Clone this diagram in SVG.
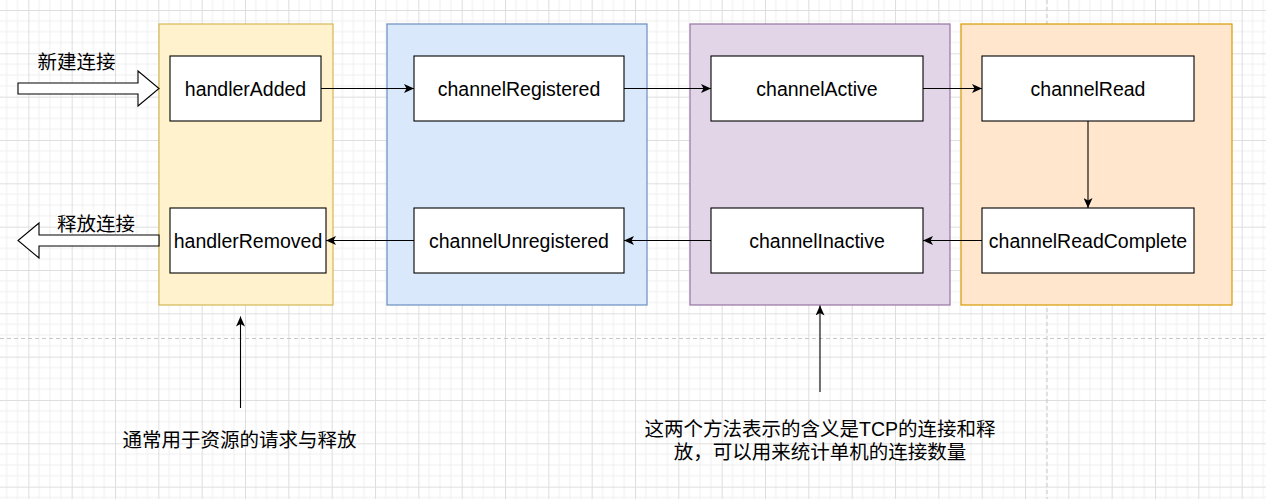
<svg xmlns="http://www.w3.org/2000/svg" width="1266" height="499" viewBox="0 0 1266 499">
  <defs>
    <pattern id="grid" patternUnits="userSpaceOnUse" x="28.333" y="10" width="43.333" height="43.333">
      <rect width="43.333" height="43.333" fill="#ffffff"/>
      <path d="M10.833 0V43.333M21.667 0V43.333M32.5 0V43.333M0 10.833H43.333M0 21.667H43.333M0 32.5H43.333" stroke="#f0f0f0" stroke-width="1" fill="none"/>
      <path d="M0.5 0V43.333M0 0.5H43.333" stroke="#dedede" stroke-width="1" fill="none"/>
    </pattern>
    <marker id="arr" markerUnits="userSpaceOnUse" markerWidth="11" markerHeight="9" refX="10" refY="4.5" orient="auto">
      <path d="M0,0 L10,4.5 L0,9 L2.5,4.5 Z" fill="#000"/>
    </marker>
  </defs>
  <style>
    .cont { stroke-width: 1.2; }
    .node rect { fill: #ffffff; stroke: #000000; stroke-width: 1.1; }
    .lbl { font-family: "Liberation Sans", Arial, "Noto Sans CJK SC", sans-serif; font-size: 19.5px; fill: #000; text-anchor: middle; }
    .cn { font-family: "Liberation Sans", "Noto Sans CJK SC", sans-serif; font-size: 19.5px; fill: #000; text-anchor: middle; }
    .edge { stroke: #000; stroke-width: 1.1; fill: none; marker-end: url(#arr); }
    .big { stroke: #000; stroke-width: 1.1; fill: #fff; }
    .page { stroke: #c8c8c8; stroke-width: 1; stroke-dasharray: 4 3; fill: none; }
  </style>
  <rect width="1266" height="499" fill="url(#grid)"/>
  <path class="page" d="M1047 0V499M0 338.5H1266"/>

  <g id="containers">
    <rect class="cont" x="159" y="24" width="174" height="281" fill="#fff2cc" stroke="#d6b656"/>
    <rect class="cont" x="387" y="24" width="260" height="281" fill="#dae8fc" stroke="#6c8ebf"/>
    <rect class="cont" x="690" y="24" width="260" height="281" fill="#e1d5e7" stroke="#9673a6"/>
    <rect class="cont" x="961" y="24" width="271" height="281" fill="#ffe6cc" stroke="#d79b00"/>
  </g>

  <g id="handlerAdded" class="node">
    <rect x="170" y="56" width="151" height="65"/>
    <text class="lbl" x="245.5" y="95.5">handlerAdded</text>
  </g>
  <g id="handlerRemoved" class="node">
    <rect x="170" y="208" width="156" height="65"/>
    <text class="lbl" x="248" y="247.5">handlerRemoved</text>
  </g>
  <g id="channelRegistered" class="node">
    <rect x="414" y="56" width="210" height="65"/>
    <text class="lbl" x="519" y="95.5">channelRegistered</text>
  </g>
  <g id="channelUnregistered" class="node">
    <rect x="414" y="208" width="210" height="65"/>
    <text class="lbl" x="519" y="247.5">channelUnregistered</text>
  </g>
  <g id="channelActive" class="node">
    <rect x="711" y="56" width="212" height="65"/>
    <text class="lbl" x="817" y="95.5">channelActive</text>
  </g>
  <g id="channelInactive" class="node">
    <rect x="711" y="208" width="212" height="65"/>
    <text class="lbl" x="817" y="247.5">channelInactive</text>
  </g>
  <g id="channelRead" class="node">
    <rect x="982" y="56" width="212" height="65"/>
    <text class="lbl" x="1088" y="95.5">channelRead</text>
  </g>
  <g id="channelReadComplete" class="node">
    <rect x="982" y="208" width="212" height="65"/>
    <text class="lbl" x="1088" y="247.5">channelReadComplete</text>
  </g>

  <g id="connectors">
    <path class="edge" d="M321 88.5H414"/>
    <path class="edge" d="M624 88.5H711"/>
    <path class="edge" d="M923 88.5H982"/>
    <path class="edge" d="M1088 121V208"/>
    <path class="edge" d="M982 240.5H923"/>
    <path class="edge" d="M711 240.5H624"/>
    <path class="edge" d="M414 240.5H326"/>
    <path class="edge" d="M240.5 408V316.5"/>
    <path class="edge" d="M820 392V305.5"/>
    <polygon class="big" points="18,83 138,83 138,71 159,88.5 138,106 138,94 18,94"/>
    <polygon class="big" points="159,235 39,235 39,223 18,240.5 39,258 39,246 159,246"/>
  </g>

  <g id="labels">
    <text class="cn" x="76.5" y="68.5">新建连接</text>
    <text class="cn" x="96" y="230.5">释放连接</text>
    <text class="cn" x="239.5" y="447">通常用于资源的请求与释放</text>
    <text class="cn" x="820" y="436">这两个方法表示的含义是TCP的连接和释</text>
    <text class="cn" x="820" y="459">放，可以用来统计单机的连接数量</text>
  </g>
</svg>
